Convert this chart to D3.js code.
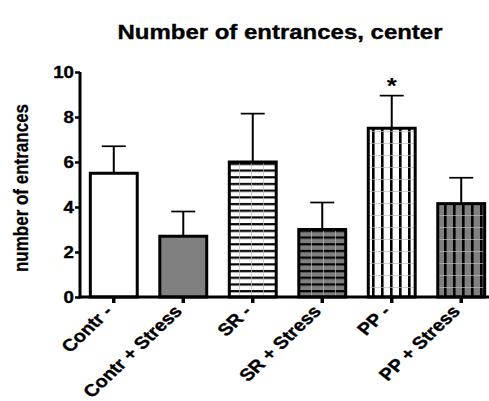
<!DOCTYPE html>
<html><head><meta charset="utf-8">
<script src="https://cdn.jsdelivr.net/npm/d3@7"></script>
<style>body{margin:0;background:#fff}svg{display:block}text{font-family:"Liberation Sans",Arial,sans-serif;font-weight:bold}</style>
</head><body><svg id="c" width="489" height="401"></svg>
<script>
const categories = ["Contr -", "Contr + Stress", "SR -", "SR + Stress", "PP -", "PP + Stress"];
const means = [5.5, 2.7, 6.0, 3.0, 7.5, 4.15];
const errors = [1.2, 1.1, 2.15, 1.2, 1.45, 1.15];
const fills = ["white", "gray", "hwhite", "hgray", "vwhite", "vgray"];
const significance = ["", "", "", "", "*", ""];
const yTicks = [0, 2, 4, 6, 8, 10];

const SX = 1.17; // horizontal stretch of the reference text
const svg = d3.select("#c");
const defs = svg.append("defs");
function pat(id, bg, horiz) {
  const s = horiz ? 6.7 : 9;
  const p = defs.append("pattern").attr("id", id).attr("patternUnits", "userSpaceOnUse")
    .attr("width", horiz ? 12 : s).attr("height", horiz ? s : 12);
  p.append("rect").attr("width", 20).attr("height", 20).attr("fill", bg);
  if (horiz) {
    p.append("rect").attr("x", 0).attr("y", 2).attr("width", 12).attr("height", 2.2).attr("fill", "#000");
    p.append("rect").attr("x", 11).attr("y", 0).attr("width", 1).attr("height", s).attr("fill", "#bbb").attr("opacity", 0.7);
  } else {
    p.append("rect").attr("x", 3).attr("y", 0).attr("width", 2.6).attr("height", 12).attr("fill", "#000");
    p.append("rect").attr("x", 0).attr("y", 11).attr("width", s).attr("height", 1).attr("fill", "#bbb").attr("opacity", 0.7);
  }
}
pat("hwhite", "#fff", true);
pat("hgray", "#808080", true);
pat("vwhite", "#fff", false);
pat("vgray", "#808080", false);
const fillOf = f => f === "white" ? "#fff" : f === "gray" ? "#808080" : `url(#${f})`;

const x = d3.scaleBand().domain(categories).range([79, 496]).paddingInner(0.325).paddingOuter(0.163);
const y = d3.scaleLinear().domain([0, 10]).range([297, 72]);

// bars
const g = svg.append("g");
categories.forEach((c, i) => {
  const x0 = x(c), w = x.bandwidth(), cx = x0 + w / 2;
  g.append("line").attr("x1", cx).attr("x2", cx).attr("y1", y(means[i])).attr("y2", y(means[i] + errors[i]))
    .attr("stroke", "#000").attr("stroke-width", 2);
  g.append("line").attr("x1", cx - 12).attr("x2", cx + 12).attr("y1", y(means[i] + errors[i])).attr("y2", y(means[i] + errors[i]))
    .attr("stroke", "#000").attr("stroke-width", 1.7);
  g.append("rect").attr("x", x0).attr("y", y(means[i])).attr("width", w).attr("height", y(0) - y(means[i]))
    .attr("fill", fillOf(fills[i])).attr("stroke", "#000").attr("stroke-width", 3);
  if (significance[i]) {
    g.append("text").attr("transform", `translate(${cx},${y(means[i] + errors[i]) - 3}) scale(${SX},1)`)
      .attr("text-anchor", "middle").attr("font-size", 22).text(significance[i]);
  }
});

// y axis
const ya = svg.append("g").attr("transform", "translate(80,0)")
  .call(d3.axisLeft(y).tickValues(yTicks).tickSize(5).tickFormat(d3.format("d")));
ya.select(".domain").attr("stroke-width", 3).attr("d", `M0,${y(10)}V${y(0)+1.5}`);
ya.selectAll(".tick line").attr("stroke-width", 2.5);
ya.selectAll(".tick text").attr("font-size", 16).attr("fill", "#000")
  .attr("stroke", "#000").attr("stroke-width", 0.35)
  .attr("x", null).attr("dy", null).attr("text-anchor", "end")
  .attr("transform", `translate(-6,5.5) scale(${SX},1)`);

// x axis
const xa = svg.append("g").attr("transform", `translate(0,${y(0)})`)
  .call(d3.axisBottom(x).tickSize(6).tickPadding(0));
xa.select(".domain").attr("stroke-width", 3).attr("d", "M78.5,0H489");
xa.selectAll(".tick line").attr("stroke-width", 3.5);
xa.selectAll(".tick text").attr("font-size", 17).attr("fill", "#000")
  .attr("stroke", "#000").attr("stroke-width", 0.35)
  .attr("text-anchor", "end").attr("dy", 0).attr("y", 0)
  .attr("transform", `translate(0,15) scale(${SX},1) rotate(-48)`);

// titles
svg.append("text").attr("transform", `translate(280,39) scale(${SX},1)`).attr("text-anchor", "middle")
  .attr("stroke", "#000").attr("stroke-width", 0.35)
  .attr("font-size", 20.5).text("Number of entrances, center");
svg.append("text").attr("transform", `translate(28,188) scale(${SX},1) rotate(-90)`).attr("text-anchor", "middle")
  .attr("stroke", "#000").attr("stroke-width", 0.25)
  .attr("font-size", 17).text("number of entrances");
</script></body></html>
